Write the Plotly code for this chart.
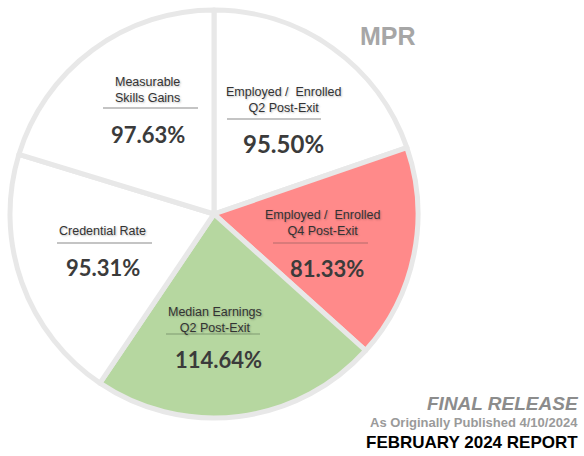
import plotly.graph_objects as go

# ---- data ----
metric_labels = [
    "Employed /  Enrolled<br>Q2 Post-Exit",
    "Employed /  Enrolled<br>Q4 Post-Exit",
    "Median Earnings<br>Q2 Post-Exit",
    "Credential Rate",
    "Measurable<br>Skills Gains",
]
rates = [95.50, 81.33, 114.64, 95.31, 97.63]
slice_shares = [71, 61, 82, 73, 73]  # angular shares
slice_colors = ["#FFFFFF", "#FF8A8A", "#B6D7A0", "#FFFFFF", "#FFFFFF"]

title_text = "MPR"
footer_lines = ["FINAL RELEASE", "As Originally Published 4/10/2024", "FEBRUARY 2024 REPORT"]

# ---- layout helpers (pixel -> paper) ----
W, H = 584, 456
def px(x):
    return x / W
def py(y):
    return 1 - y / H

# label/percent/underline placement per slice (pixel coordinates)
label_pos = [(283, 100), (322, 223), (215, 320), (102, 231), (147, 90)]
pct_pos = [(283, 143), (327, 268), (218, 359), (103, 267), (148, 134)]
pct_size = [24, 22, 22, 22, 22]
uline = [(227, 321, 119), (273, 368, 243), (166, 260, 334), (57, 152, 243), (103, 198, 108)]
uline_color = ["#8a8a8a", "#b46a6a", "#7f9a70", "#8a8a8a", "#8a8a8a"]

fig = go.Figure(
    go.Pie(
        labels=[l.replace("<br>", " ") for l in metric_labels],
        values=slice_shares,
        sort=False,
        direction="clockwise",
        rotation=0,
        textinfo="none",
        hoverinfo="skip",
        showlegend=False,
        marker=dict(colors=slice_colors, line=dict(color="#E8E8E8", width=5)),
        domain=dict(x=[px(10), px(418)], y=[py(418), py(10)]),
    )
)

annotations = []
shapes = []
for i in range(len(metric_labels)):
    lx, ly = label_pos[i]
    annotations.append(dict(
        text=metric_labels[i], x=px(lx), y=py(ly), xref="paper", yref="paper",
        showarrow=False, xanchor="center", yanchor="middle",
        font=dict(family="Liberation Sans, Arial", size=12.5, color="#333333",
                  shadow="1px 1px 2px rgba(0,0,0,0.25)"),
    ))
    qx, qy = pct_pos[i]
    annotations.append(dict(
        text=f"<b>{rates[i]:.2f}%</b>", x=px(qx), y=py(qy), xref="paper", yref="paper",
        showarrow=False, xanchor="center", yanchor="middle",
        font=dict(family="Lato, Open Sans", size=pct_size[i], color="#3B3B3B"),
    ))
    x0, x1, uy = uline[i]
    shapes.append(dict(type="line", xref="paper", yref="paper",
                       x0=px(x0), x1=px(x1), y0=py(uy), y1=py(uy),
                       line=dict(color=uline_color[i], width=1.2)))

annotations.append(dict(
    text=f"<b>{title_text}</b>", x=px(388), y=py(36), xref="paper", yref="paper",
    showarrow=False, xanchor="center", yanchor="middle",
    font=dict(family="Liberation Sans, Arial", size=25, color="#A6A6A6"),
))
annotations.append(dict(
    text=f"<b><i>{footer_lines[0]}</i></b>", x=px(581), y=py(403), xref="paper", yref="paper",
    showarrow=False, xanchor="right", yanchor="middle",
    font=dict(family="Liberation Sans, Arial", size=19, color="#8C8C8C"),
))
annotations.append(dict(
    text=f"<b>{footer_lines[1]}</b>", x=px(580), y=py(422), xref="paper", yref="paper",
    showarrow=False, xanchor="right", yanchor="middle",
    font=dict(family="Liberation Sans, Arial", size=13, color="#9A9A9A"),
))
annotations.append(dict(
    text=f"<b>{footer_lines[2]}</b>", x=px(580), y=py(442), xref="paper", yref="paper",
    showarrow=False, xanchor="right", yanchor="middle",
    font=dict(family="Liberation Sans, Arial", size=17, color="#000000"),
))

fig.update_layout(
    width=W, height=H,
    margin=dict(l=0, r=0, t=0, b=0),
    paper_bgcolor="white", plot_bgcolor="white",
    annotations=annotations, shapes=shapes,
)

fig.write_html(
    "out.html",
    config={"displayModeBar": False},
    post_script="document.body.style.margin='0';document.body.style.overflow='hidden';",
)
